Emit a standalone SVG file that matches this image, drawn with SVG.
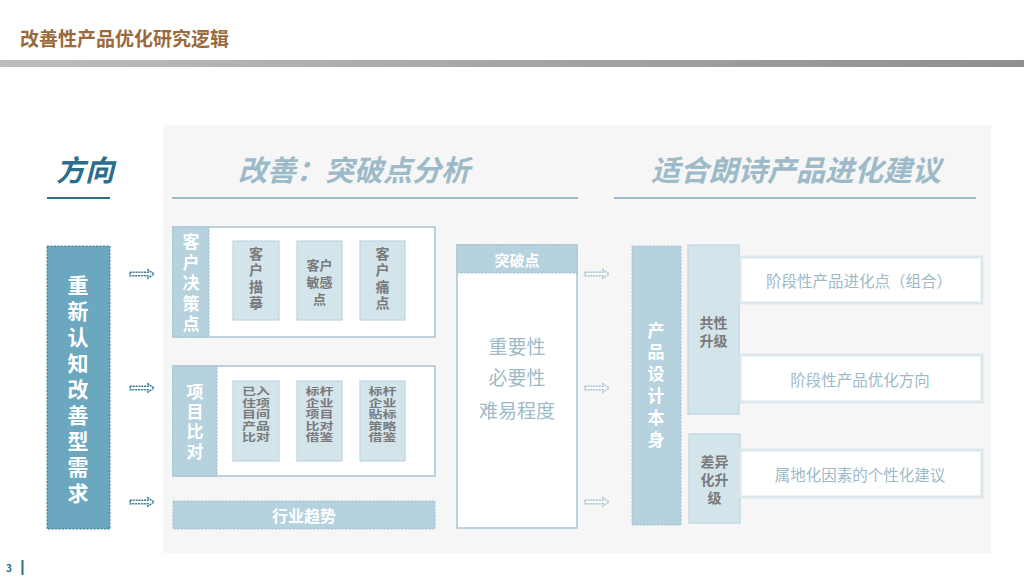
<svg xmlns="http://www.w3.org/2000/svg" xmlns:xlink="http://www.w3.org/1999/xlink" width="1024" height="576" viewBox="0 0 1024 576">
<style>
text{font-family:"Noto Sans CJK SC","Noto Sans",sans-serif;text-anchor:middle;dominant-baseline:central}
.v{writing-mode:vertical-rl;dominant-baseline:auto}
.hdr{font-size:29px;font-weight:bold;font-style:italic}
.wb{fill:#ffffff;font-weight:bold}
.gb{fill:#7a7a7a;font-weight:bold}
.sq{fill:#7a7a7a;font-weight:bold;font-size:14px}
.lt{fill:#9dbac8}
.dash{stroke-dasharray:2 1.5}
.head{fill:#b5d2de;stroke:#9ebfce;stroke-width:1}
.inner{fill:#d4e4eb;stroke:#bcd6e1;stroke-width:1.2}
.outer{fill:#ffffff;stroke:#a8c4d2;stroke-width:1.5}
.rbox{fill:#ffffff;stroke:#dbe7ed;stroke-width:3}
</style>
<defs>
<linearGradient id="bar" x1="0" x2="1" y1="0" y2="0">
<stop offset="0" stop-color="#bdbdbd"/>
<stop offset="1" stop-color="#8f8f8f"/>
</linearGradient>
<path id="arr" d="M0,-1.8 H18 V-4 L24,0 L18,4 V1.8 H0 Z" fill="#ffffff" stroke-width="1.6" stroke-dasharray="2 0.8"/>
</defs>

<!-- title -->
<text x="20" y="37" style="text-anchor:start;font-size:19px;font-weight:bold;fill:#9a6a3a">改善性产品优化研究逻辑</text>
<rect x="0" y="60" width="1024" height="7" fill="url(#bar)"/>

<!-- background panel -->
<rect x="163" y="125" width="828" height="428" fill="#f6f6f6"/>

<!-- headings -->
<g id="headings">
<text class="hdr" x="85" y="168" fill="#2a6e8c">方向</text>
<line x1="47" y1="198" x2="110" y2="198" stroke="#2a6e8c" stroke-width="2"/>
<text class="hdr" x="354" y="168" fill="#9dbac8">改善：突破点分析</text>
<line x1="172" y1="198" x2="578" y2="198" stroke="#9dbac8" stroke-width="2"/>
<text class="hdr" x="796" y="168" fill="#9dbac8">适合朗诗产品进化建议</text>
<line x1="614" y1="198" x2="976" y2="198" stroke="#9dbac8" stroke-width="2"/>
</g>

<!-- left node -->
<g id="need">
<rect x="47" y="246" width="63" height="283" fill="#6ba7bf" stroke="#3f7f98" stroke-width="1" class="dash"/>
<text class="wb v" x="78" y="391.5" font-size="21" letter-spacing="5">重新认知改善型需求</text>
</g>

<!-- connectors -->
<g id="connectors">
<use xlink:href="#arr" x="130" y="274" stroke="#3f7d98"/>
<use xlink:href="#arr" x="130" y="388" stroke="#3f7d98"/>
<use xlink:href="#arr" x="130" y="502" stroke="#3f7d98"/>
<use xlink:href="#arr" x="585" y="274" stroke="#a6c6d4"/>
<use xlink:href="#arr" x="585" y="388" stroke="#a6c6d4"/>
<use xlink:href="#arr" x="585" y="502" stroke="#a6c6d4"/>
</g>

<!-- box 1: customer decision points -->
<g id="customer">
<rect class="outer" x="173" y="227" width="262" height="110"/>
<rect class="head dash" x="173" y="227" width="36" height="110"/>
<text class="wb v" x="191" y="284.5" font-size="17" letter-spacing="3.5">客户决策点</text>
</g>
<g id="c1">
<rect class="inner" x="233" y="241" width="46" height="79"/>
<text class="gb v" x="256" y="279.5" font-size="14" letter-spacing="2.4">客户描摹</text>
</g>
<g id="c2">
<rect class="inner" x="297" y="241" width="45" height="79"/>
<text class="gb" x="319.5" y="264" font-size="13"><tspan x="319.5" dy="0">客户</tspan><tspan x="319.5" dy="17">敏感</tspan><tspan x="319.5" dy="17">点</tspan></text>
</g>
<g id="c3">
<rect class="inner" x="360" y="241" width="45" height="79"/>
<text class="gb v" x="382.5" y="279.5" font-size="14" letter-spacing="2.4">客户痛点</text>
</g>

<!-- box 2: project comparison -->
<g id="project">
<rect class="outer" x="173" y="366" width="262" height="110"/>
<rect class="head dash" x="173" y="366" width="44" height="110"/>
<text class="wb v" x="195" y="423.5" font-size="17" letter-spacing="3">项目比对</text>
</g>
<g id="p1">
<rect class="inner" x="233" y="381" width="46" height="80"/>
<text class="sq" transform="matrix(1,0,0,0.72,256,391)">已入</text>
<text class="sq" transform="matrix(1,0,0,0.72,256,402.5)">住项</text>
<text class="sq" transform="matrix(1,0,0,0.72,256,414)">目间</text>
<text class="sq" transform="matrix(1,0,0,0.72,256,425.5)">产品</text>
<text class="sq" transform="matrix(1,0,0,0.72,256,437)">比对</text>
</g>
<g id="p2">
<rect class="inner" x="297" y="381" width="45" height="80"/>
<text class="sq" transform="matrix(1,0,0,0.72,319.5,391)">标杆</text>
<text class="sq" transform="matrix(1,0,0,0.72,319.5,402.5)">企业</text>
<text class="sq" transform="matrix(1,0,0,0.72,319.5,414)">项目</text>
<text class="sq" transform="matrix(1,0,0,0.72,319.5,425.5)">比对</text>
<text class="sq" transform="matrix(1,0,0,0.72,319.5,437)">借鉴</text>
</g>
<g id="p3">
<rect class="inner" x="360" y="381" width="45" height="80"/>
<text class="sq" transform="matrix(1,0,0,0.72,382.5,391)">标杆</text>
<text class="sq" transform="matrix(1,0,0,0.72,382.5,402.5)">企业</text>
<text class="sq" transform="matrix(1,0,0,0.72,382.5,414)">贴标</text>
<text class="sq" transform="matrix(1,0,0,0.72,382.5,425.5)">策略</text>
<text class="sq" transform="matrix(1,0,0,0.72,382.5,437)">借鉴</text>
</g>

<!-- box 3: industry trend -->
<g id="trend">
<rect class="head dash" x="173" y="501" width="262" height="28"/>
<text class="wb" x="304" y="515" font-size="16">行业趋势</text>
</g>

<!-- middle: breakthrough -->
<g id="breakthrough">
<rect class="outer" x="457" y="245" width="120" height="283"/>
<rect class="head dash" x="457" y="245" width="120" height="28"/>
<text class="wb" x="517" y="259" font-size="15">突破点</text>
<text class="lt" x="517" y="345" font-size="19">重要性</text>
<text class="lt" x="517" y="376" font-size="19">必要性</text>
<text class="lt" x="517" y="409" font-size="19">难易程度</text>
</g>

<!-- right -->
<g id="design">
<rect class="head dash" x="632" y="246" width="49" height="279"/>
<text class="wb v" x="656" y="387" font-size="17" letter-spacing="4.8">产品设计本身</text>
</g>
<g id="common">
<rect class="inner" x="688" y="245" width="51" height="169"/>
<text class="gb" x="713.5" y="322" font-size="14"><tspan x="713.5" dy="0">共性</tspan><tspan x="713.5" dy="18">升级</tspan></text>
</g>
<g id="diff">
<rect class="inner" x="689" y="434" width="51" height="89"/>
<text class="gb" x="714.5" y="461" font-size="14"><tspan x="714.5" dy="0">差异</tspan><tspan x="714.5" dy="18">化升</tspan><tspan x="714.5" dy="18">级</tspan></text>
</g>
<g id="r1">
<rect class="rbox" x="740" y="257" width="242" height="46"/>
<text class="lt" x="859" y="280" font-size="15.5">阶段性产品进化点（组合）</text>
</g>
<g id="r2">
<rect class="rbox" x="740" y="355" width="242" height="47"/>
<text class="lt" x="860" y="379" font-size="15.5">阶段性产品优化方向</text>
</g>
<g id="r3">
<rect class="rbox" x="740" y="450" width="242" height="47"/>
<text class="lt" x="860" y="474" font-size="15.5">属地化因素的个性化建议</text>
</g>

<!-- page number -->
<text x="9" y="567" font-size="10" font-weight="bold" fill="#2a6e8c">3</text>
<line x1="22.5" y1="560" x2="22.5" y2="575" stroke="#2a6e8c" stroke-width="2"/>
</svg>
